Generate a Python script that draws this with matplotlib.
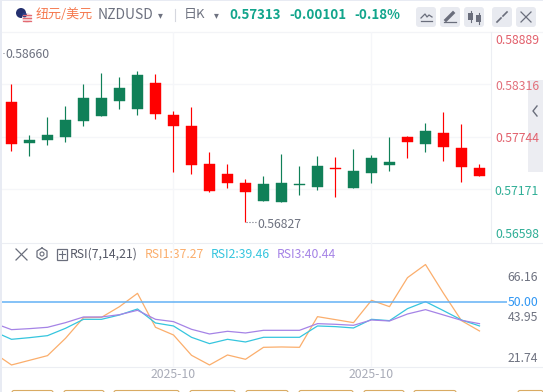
import matplotlib
matplotlib.use("Agg")
import matplotlib.pyplot as plt
from matplotlib.patches import Rectangle, FancyBboxPatch, Circle

plt.rcParams['font.family'] = ['Noto Sans CJK SC', 'DejaVu Sans']

# candles
highs = [0.58319, 0.57762, 0.57958, 0.58079, 0.58319, 0.58440, 0.58396, 0.58461, 0.58429,
         0.58024, 0.58068, 0.57576, 0.57445, 0.57280, 0.57313, 0.57554, 0.57423, 0.57532,
         0.57521, 0.57609, 0.57543, 0.57740, 0.57751, 0.57893, 0.58013, 0.57882, 0.57445]
lows = [0.57590, 0.57532, 0.57652, 0.57688, 0.57860, 0.57969, 0.58046, 0.57980, 0.57937,
        0.57360, 0.57335, 0.57138, 0.57182, 0.56812, 0.57040, 0.57029, 0.57106, 0.57160,
        0.57084, 0.57182, 0.57237, 0.57368, 0.57510, 0.57576, 0.57477, 0.57248, 0.57313]
opens = [0.58122, 0.57677, 0.57707, 0.57743, 0.57918, 0.57969, 0.58133, 0.58046, 0.58330,
         0.57980, 0.57860, 0.57445, 0.57335, 0.57237, 0.57040, 0.57029, 0.57215, 0.57193,
         0.57401, 0.57182, 0.57346, 0.57434, 0.57740, 0.57663, 0.57783, 0.57619, 0.57401]
closes = [0.57666, 0.57707, 0.57762, 0.57926, 0.58166, 0.58166, 0.58276, 0.58418, 0.57991,
          0.57860, 0.57434, 0.57149, 0.57237, 0.57138, 0.57226, 0.57237, 0.57226, 0.57423,
          0.57390, 0.57368, 0.57510, 0.57466, 0.57685, 0.57805, 0.57630, 0.57412, 0.57313]

# first value of each RSI list belongs to the day left of the view
rsi1 = [27.85, 22.49, 24.52, 26.55, 34.08, 43.07, 43.21, 47.85, 53.64, 38.87, 35.53, 26.70, 22.49, 26.84,
        24.96, 30.17, 30.32, 30.17, 43.50, 42.20, 40.89, 50.60, 47.85, 60.46, 66.16, 53.64, 41.76, 37.27]
rsi2 = [37.13, 33.65, 34.37, 35.24, 38.43, 42.34, 42.34, 44.23, 46.83, 40.75, 39.45, 34.52, 31.77, 33.65,
        32.49, 34.52, 34.52, 34.52, 39.45, 39.16, 38.58, 42.34, 41.76, 46.98, 50.03, 46.11, 42.05, 39.46]
rsi3 = [40.75, 37.85, 38.29, 38.87, 40.89, 43.36, 43.36, 44.37, 46.26, 42.34, 41.33, 38.00, 35.97, 37.13,
        36.40, 37.56, 37.56, 37.56, 40.46, 40.17, 39.74, 42.05, 41.62, 44.66, 46.55, 44.23, 41.91, 40.44]
rsi_days = list(range(-1, 27))

price_ticks = [0.58889, 0.58316, 0.57744, 0.57171, 0.56598]
date_days = [9, 20]
date_labels = ['2025-10', '2025-10']

W, H = 543, 392
RED = '#ff0000'
GREEN = '#108058'
GRID = '#f5f6f9'
LINE = '#eceef3'
GRAY = '#6e7280'
TEAL = '#12a58c'


def box(l, t, r, b):
    return [l / W, 1 - b / H, (r - l) / W, (b - t) / H]


def day_lim(l, r):
    return (l - 11.5) / 18, (r - 11.5) / 18


fig = plt.figure(figsize=(W / 100, H / 100), dpi=100)

# page furniture in pixel coordinates
bg = fig.add_axes([0, 0, 1, 1])
bg.set_xlim(0, W)
bg.set_ylim(H, 0)
bg.axis('off')
bg.add_patch(Rectangle((0, 0), 2, H, color='#e8ebf3', lw=0))
bg.add_patch(Rectangle((0, 0), W, 1.2, color='#e8ebf3', lw=0))
bg.plot([2, W], [31.5, 31.5], color='#f3f4f7', lw=0.9)
bg.plot([2, W], [243, 243], color=LINE, lw=0.8)
bg.plot([2, W], [367, 367], color=LINE, lw=0.8)
bg.plot([490.5, 490.5], [32, 243], color=LINE, lw=0.8)

# candles
ax = fig.add_axes(box(2, 32, 491, 243))
ax.patch.set_alpha(0)
ax.set_xlim(*day_lim(2, 491))
ax.set_ylim(0.56581, 0.58888)
for i in range(len(opens)):
    c = RED if closes[i] < opens[i] else GREEN
    ax.vlines(i, lows[i], highs[i], color=c, lw=0.85, zorder=3)
    ax.bar(i, abs(closes[i] - opens[i]), 0.61, min(opens[i], closes[i]),
           color=c, edgecolor=c, lw=0.3, zorder=4)
ax.set_yticks(price_ticks[1:4])
ax.set_xticks(date_days)
ax.set_xticklabels([])
ax.set_yticklabels([])
ax.tick_params(length=0)
ax.grid(color=GRID, lw=1)
ax.set_axisbelow(True)
for s in ax.spines.values():
    s.set_visible(False)

# high and low notes
bg.plot([2.5, 4.5], [52.5, 52.5], color=GRAY, lw=0.7, ls=':', zorder=6)
bg.text(5.5, 54.5, '0.58660', fontsize=8.8, color=GRAY, va='center', zorder=6)
bg.plot([246, 256], [222, 222], color=GRAY, lw=0.8, ls=':', zorder=6)
bg.text(257, 224.5, '0.56827', fontsize=8.8, color=GRAY, va='center', zorder=6)

# rsi panel
rx = fig.add_axes(box(2, 243, 507, 367))
rx.patch.set_alpha(0)
rx.set_xlim(*day_lim(2, 507))
rx.set_ylim(21.61, 75.52)
rx.plot(rsi_days, rsi1, color='#fbae6c', lw=0.9)
rx.plot(rsi_days, rsi2, color='#35c5de', lw=0.9)
rx.plot(rsi_days, rsi3, color='#a583e6', lw=0.9)
rx.axhline(50, color='#63b1f5', lw=1.1)
rx.set_xticks(date_days)
rx.set_xticklabels(date_labels, fontsize=8.8, color='#a9acb8')
rx.set_yticks([])
rx.tick_params(length=0, pad=0.5)
rx.grid(axis='x', color=GRID, lw=1)
rx.set_axisbelow(True)
for s in rx.spines.values():
    s.set_visible(False)

# axis labels
for p, y, col in [(0.58889, 40, '#e2606c'), (0.58316, 86, '#e2707b'), (0.57744, 138.5, '#e2606c'),
                  (0.57171, 191.5, '#2fae96'), (0.56598, 234, '#2fae96')]:
    bg.text(539, y, '%.5f' % p, color=col, fontsize=8.8, ha='right', va='center')
for t, y, col in [('66.16', 277.7, GRAY), ('50.00', 302, '#2f96f3'), ('43.95', 317.7, GRAY), ('21.74', 358, GRAY)]:
    bg.text(538, y, t, color=col, fontsize=8.8, ha='right', va='center')

# header
bg.add_patch(Circle((21, 13), 5, color='#24306f', lw=0))
bg.add_patch(Circle((27, 18), 5, color='#f6dfe0', lw=0))
for y in [14.5, 17.5, 20.5]:
    bg.plot([23, 31], [y, y], color='#e46a72', lw=0.9)
bg.add_patch(Circle((24.5, 15), 2.4, color='#2b3f86', lw=0))
bg.text(36, 14.5, '纽元/美元', color='#f5794f', fontsize=9.4, va='center')
bg.text(98, 15, 'NZDUSD', color=GRAY, fontsize=10, va='center')
bg.text(160.5, 15, '▾', color=GRAY, fontsize=7, ha='center', va='center', family='DejaVu Sans')
bg.plot([174.5, 174.5], [9, 21], color='#d5d7de', lw=0.8)
bg.text(184, 14.5, '日K', color=GRAY, fontsize=9.4, va='center')
bg.text(216, 15, '▾', color=GRAY, fontsize=7, ha='center', va='center', family='DejaVu Sans')
bg.text(229, 14.5, '0.57313', color=TEAL, fontsize=9.6, weight='bold', va='center')
bg.text(289, 14.5, '-0.00101', color=TEAL, fontsize=9.6, weight='bold', va='center')
bg.text(354, 14.5, '-0.18%', color=TEAL, fontsize=9.6, weight='bold', va='center')

# toolbar buttons
for l in [416, 440, 464, 492, 516]:
    bg.add_patch(FancyBboxPatch((l + 2, 9), 16, 16, boxstyle='round,pad=2,rounding_size=3', fc='#e8eaf0', ec='none'))
ICON = '#6a6e7c'
bg.plot([421, 425, 427, 429, 432], [18, 14, 17, 15, 17], color=ICON, lw=0.9)
bg.plot([421, 432], [21, 21], color=ICON, lw=0.9)
bg.plot([446, 453], [20, 13], color=ICON, lw=2.4)
bg.plot([444, 456], [22, 22], color=ICON, lw=0.9)
bg.plot([470.5, 470.5], [11, 22], color=ICON, lw=0.8)
bg.add_patch(Rectangle((468, 13), 5, 7, color=ICON, lw=0))
bg.plot([478.5, 478.5], [13, 24], color=ICON, lw=0.8)
bg.add_patch(Rectangle((476, 15), 5, 7, color=ICON, lw=0))
bg.plot([497, 501], [22, 18], color=ICON, lw=1.2)
bg.plot([503, 507], [16, 12], color=ICON, lw=1.2)
bg.plot([521, 531], [12, 22], color=ICON, lw=0.9)
bg.plot([521, 531], [22, 12], color=ICON, lw=0.9)

# side handle
bg.add_patch(Rectangle((528, 80), 15, 92, color='#ecedf2', lw=0))
bg.plot([537, 533, 537], [106, 111, 116], color=ICON, lw=1)

# rsi header
bg.plot([16, 27], [249, 260], color=ICON, lw=0.9)
bg.plot([16, 27], [260, 249], color=ICON, lw=0.9)
bg.plot([42, 47, 47, 42, 37, 37, 42], [248, 251, 257, 260, 257, 251, 248], color=ICON, lw=0.9)
bg.add_patch(Circle((42, 254), 2, fc='none', ec=ICON, lw=0.8))
bg.add_patch(Rectangle((56.5, 249), 10.5, 10.5, fc='none', ec=ICON, lw=0.9))
bg.plot([59, 65], [254.3, 254.3], color=ICON, lw=0.8)
bg.plot([62, 62], [251, 257.5], color=ICON, lw=0.8)
bg.text(70, 254.5, 'RSI(7,14,21)', color='#555866', fontsize=8.8, va='center')
bg.text(144.5, 254.5, 'RSI1:37.27', color='#fbae6c', fontsize=8.8, va='center')
bg.text(211, 254.5, 'RSI2:39.46', color='#35c5de', fontsize=8.8, va='center')
bg.text(277, 254.5, 'RSI3:40.44', color='#a583e6', fontsize=8.8, va='center')

# row of tabs cut off by the bottom edge
for l, r in [(12, 53), (64, 104), (114, 179), (190, 235), (246, 288), (299, 353), (364, 404), (414, 456), (518, 543)]:
    bg.add_patch(FancyBboxPatch((l, 390.5), r - l, 6, boxstyle='round,pad=0,rounding_size=2', fc='white', ec='#d9ab63', lw=0.8))

fig.savefig('out.png', dpi=100)
